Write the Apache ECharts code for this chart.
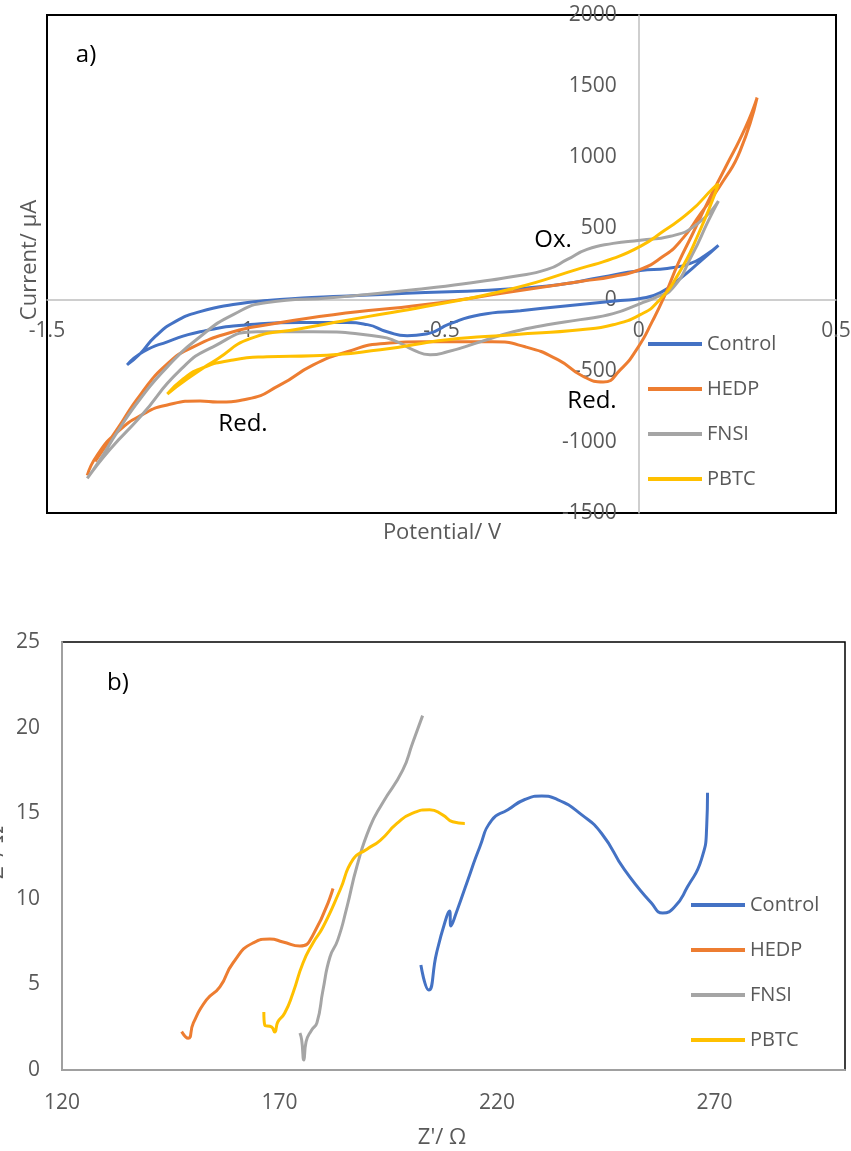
<!DOCTYPE html>
<html>
<head>
<meta charset="utf-8">
<script src="https://cdn.jsdelivr.net/npm/echarts@6/dist/echarts.min.js"></script>
<style>
html,body{margin:0;padding:0;background:#fff;}
#chart{width:851px;height:1151px;}
</style>
</head>
<body>
<div id="chart"></div>
<script>
// ---------- Panel a) cyclic voltammetry: potential (V) / current (µA) ----------
const seriesNames = ['Control', 'HEDP', 'FNSI', 'PBTC'];
const seriesColors = ['#4472C4', '#ED7D31', '#A5A5A5', '#FFC000'];

const cvControlV = [-1.297,-1.264,-1.226,-1.175,-1.112,-1.028,-0.942,-0.774,-0.541,-0.351,-0.199,-0.098,0.004,0.072,0.131,0.169,0.202,
  0.156,0.105,0.055,0.004,-0.047,-0.098,-0.199,-0.300,-0.402,-0.478,-0.536,-0.587,-0.638,-0.688,-0.739,-0.858,-0.985,-1.112,-1.195,-1.256,-1.297];
const cvControlI = [-459,-381,-261,-155,-85,-35,-7,21,49,71,106,155,205,219,254,311,381,
  268,148,49,7,-7,-21,-49,-78,-106,-169,-240,-254,-226,-176,-162,-162,-176,-226,-297,-367,-459];

const cvHedpV = [-1.378,-1.322,-1.264,-1.195,-1.129,-1.028,-0.942,-0.774,-0.541,-0.318,-0.148,-0.065,0.004,0.062,0.105,0.156,0.214,0.257,0.300,
  0.270,0.219,0.176,0.136,0.100,0.067,0.034,-0.001,-0.047,-0.090,-0.143,-0.204,-0.288,-0.371,-0.458,-0.541,-0.655,-0.739,-0.825,-0.909,-0.992,-1.068,-1.112,-1.195,-1.256,-1.322,-1.373,-1.398];
const cvHedpI = [-1137,-911,-671,-452,-332,-226,-177,-106,-35,56,127,162,212,304,409,600,833,1045,1419,
  1207,925,692,459,254,35,-155,-332,-494,-579,-537,-424,-332,-297,-297,-297,-311,-367,-459,-600,-699,-720,-713,-741,-805,-932,-1094,-1236];

const cvFnsiV = [-1.398,-1.365,-1.322,-1.264,-1.195,-1.112,-1.028,-0.942,-0.774,-0.541,-0.402,-0.318,-0.232,-0.181,-0.131,-0.065,0.004,0.080,0.148,0.202,
  0.176,0.136,0.085,0.042,0.004,-0.065,-0.148,-0.232,-0.318,-0.402,-0.485,-0.529,-0.572,-0.612,-0.655,-0.825,-0.967,-1.079,-1.162,-1.264,-1.340,-1.398];
const cvFnsiI = [-1257,-1123,-932,-699,-473,-261,-106,-21,14,78,127,162,212,282,353,395,417,445,530,692,
  551,318,78,14,-28,-99,-141,-177,-226,-297,-367,-388,-353,-297,-261,-226,-226,-332,-494,-826,-1052,-1257];

const cvPbtcV = [-1.195,-1.145,-1.068,-0.985,-0.858,-0.688,-0.541,-0.318,-0.148,-0.065,0.004,0.062,0.131,0.189,0.202,
  0.151,0.100,0.049,0.004,-0.065,-0.148,-0.318,-0.485,-0.655,-0.825,-0.942,-1.028,-1.112,-1.155,-1.195];
const cvPbtcI = [-664,-558,-417,-275,-205,-120,-49,78,219,289,374,480,621,784,812,
  459,177,-14,-106,-177,-212,-247,-282,-353,-395,-402,-424,-487,-558,-664];

const cvXTicks = { min: -1.5, max: 0.5, step: 0.5 };
const cvYTicks = { min: -1500, max: 2000, step: 500 };

// ---------- Panel b) Nyquist plot: Z' (Ω) / -Z'' (Ω) ----------
const eisControlX = [202.5,204.3,206.1,208.4,209.1,209.4,210.7,213.3,216.0,218.8,222.5,226.4,230.3,233.9,239.5,244.1,249.3,255.5,258.1,260.8,263.8,267.0,268.2,268.4];
const eisControlY = [6.13,4.67,6.83,8.94,9.29,8.41,9.23,11.1,13.0,14.6,15.2,15.8,16.0,15.8,14.9,13.8,11.7,9.75,9.17,9.52,10.7,12.3,14.2,16.2];

const eisHedpX = [147.5,149.0,150.2,153.2,156.3,159.3,163.9,167.8,170.8,174.7,177.7,182.3];
const eisHedpY = [2.24,1.85,2.75,4.09,4.85,6.25,7.42,7.65,7.48,7.24,7.89,10.6];

const eisFnsiX = [174.7,175.1,175.6,176.1,177.4,178.6,180.0,181.6,183.4,185.5,187.8,190.8,193.7,198.3,200.6,202.9];
const eisFnsiY = [2.16,1.75,0.58,1.64,2.34,2.75,4.67,6.6,7.6,9.52,11.9,14.2,15.6,17.5,19.1,20.7];

const eisPbtcX = [166.4,166.6,168.2,168.9,169.6,171.2,173.1,175.4,177.7,180.0,183.9,186.9,190.1,193.1,197.0,200.6,204.5,207.5,209.8,212.6];
const eisPbtcY = [3.39,2.63,2.51,2.22,2.80,3.33,4.50,6.25,7.42,8.35,10.5,12.3,12.9,13.4,14.4,15.0,15.2,14.9,14.5,14.4];

const eisXTicks = { min: 120, max: 300, step: 50 };
const eisYTicks = { min: 0, max: 25, step: 5 };

// ---------- build ----------
const zip = (a, b) => a.map((v, i) => [v, b[i]]);
const cvData = [zip(cvControlV, cvControlI), zip(cvHedpV, cvHedpI), zip(cvFnsiV, cvFnsiI), zip(cvPbtcV, cvPbtcI)];
const eisData = [zip(eisControlX, eisControlY), zip(eisHedpX, eisHedpY), zip(eisFnsiX, eisFnsiY), zip(eisPbtcX, eisPbtcY)];

const FONT = '"Open Sans", "Liberation Sans", sans-serif';
const tickColor = '#595959';

// grid geometry of panel a), used to put the axes through the origin
const gA = { left: 47, top: 15, width: 789, height: 498 };
const gB = { left: 62, top: 642, width: 783, height: 428 };
const zeroX = gA.left + gA.width * (0 - cvXTicks.min) / (cvXTicks.max - cvXTicks.min);
const zeroY = gA.top + gA.height * (cvYTicks.max - 0) / (cvYTicks.max - cvYTicks.min);

function mkSeries(data, idx) {
  return data.map((d, i) => ({
    name: seriesNames[i],
    type: 'line',
    xAxisIndex: idx, yAxisIndex: idx,
    data: d,
    smooth: 0.55,
    showSymbol: false,
    symbol: 'none',
    lineStyle: { width: 3, color: seriesColors[i] },
    itemStyle: { color: seriesColors[i] },
    z: 3
  }));
}

function txt(x, y, text, size, color, rot) {
  return {
    type: 'text', x: x, y: y, rotation: rot || 0, z: 10,
    style: { text: text, fontSize: size, fontFamily: FONT, fill: color, align: 'center', verticalAlign: 'middle' }
  };
}

const legendCommon = {
  orient: 'vertical',
  data: seriesNames,
  icon: 'rect',
  itemWidth: 54,
  itemHeight: 4,
  itemGap: 25,
  padding: 0,
  textStyle: { fontSize: 20, fontFamily: FONT, color: tickColor },
  selectedMode: false
};

const plain = v => String(v);

const chart = echarts.init(document.getElementById('chart'), null, { renderer: 'canvas' });
chart.setOption({
  animation: false,
  backgroundColor: '#fff',
  grid: [
    Object.assign({ show: true, borderColor: '#000', borderWidth: 2, backgroundColor: 'transparent', containLabel: false, outerBoundsMode: 'none' }, gA),
    Object.assign({ show: true, borderColor: '#000', borderWidth: 1.5, backgroundColor: 'transparent', containLabel: false, outerBoundsMode: 'none' }, gB)
  ],
  legend: [
    Object.assign({ left: 648, top: 334 }, legendCommon),
    Object.assign({ left: 691, top: 895 }, legendCommon)
  ],
  xAxis: [
    {
      gridIndex: 0, type: 'value', min: cvXTicks.min, max: cvXTicks.max, interval: cvXTicks.step,
      position: 'bottom', offset: -(gA.top + gA.height - zeroY),
      axisLine: { onZero: false, lineStyle: { color: '#bfbfbf', width: 1.5 } },
      axisTick: { show: false }, splitLine: { show: false },
      axisLabel: { margin: 21, fontSize: 21, fontFamily: FONT, color: tickColor, showMinLabel: true, showMaxLabel: true, formatter: plain }
    },
    {
      gridIndex: 1, type: 'value', min: eisXTicks.min, max: eisXTicks.max, interval: eisXTicks.step,
      axisLine: { onZero: false, lineStyle: { color: '#a0a0a0', width: 2 } },
      axisTick: { show: false }, splitLine: { show: false },
      axisLabel: { margin: 23, fontSize: 21, fontFamily: FONT, color: tickColor,
        formatter: v => (v > 270 ? '' : String(v)) }
    }
  ],
  yAxis: [
    {
      gridIndex: 0, type: 'value', min: cvYTicks.min, max: cvYTicks.max, interval: cvYTicks.step,
      position: 'left', offset: -(zeroX - gA.left),
      axisLine: { onZero: false, lineStyle: { color: '#bfbfbf', width: 1.5 } },
      axisTick: { show: false }, splitLine: { show: false },
      axisLabel: { margin: 22, fontSize: 21, fontFamily: FONT, color: tickColor, showMinLabel: true, showMaxLabel: true, formatter: plain }
    },
    {
      gridIndex: 1, type: 'value', min: eisYTicks.min, max: eisYTicks.max, interval: eisYTicks.step,
      axisLine: { onZero: false, lineStyle: { color: '#a0a0a0', width: 2 } },
      axisTick: { show: false }, splitLine: { show: false },
      axisLabel: { margin: 22, fontSize: 21, fontFamily: FONT, color: tickColor, formatter: plain }
    }
  ],
  series: mkSeries(cvData, 0).concat(mkSeries(eisData, 1)),
  graphic: [
    txt(86, 55, 'a)', 24, '#000'),
    txt(553, 240, 'Ox.', 24, '#000'),
    txt(243, 424, 'Red.', 24, '#000'),
    txt(592, 401, 'Red.', 24, '#000'),
    txt(30, 260, 'Current/ µA', 22, tickColor, Math.PI / 2),
    txt(442, 533, 'Potential/ V', 22, tickColor),
    txt(118, 683, 'b)', 24, '#000'),
    txt(442, 1138, "Z'/ Ω", 22, tickColor),
    txt(-3, 856, "-Z''/ Ω", 22, tickColor, Math.PI / 2)
  ]
});
</script>
</body>
</html>
